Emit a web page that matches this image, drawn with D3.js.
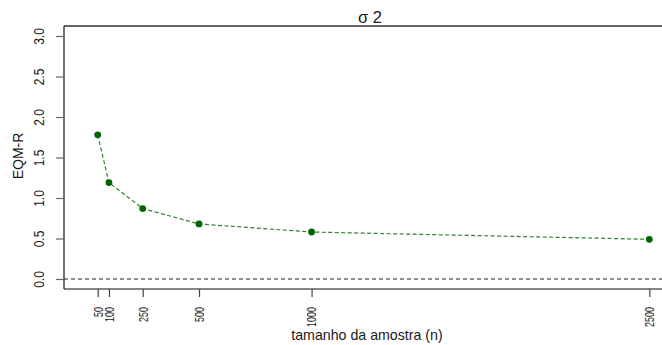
<!DOCTYPE html>
<html>
<head>
<meta charset="utf-8">
<script src="https://cdn.jsdelivr.net/npm/d3@7"></script>
<style>
  body { margin: 0; background: #fff; }
  svg { display: block; font-family: Arial, "Liberation Sans", sans-serif; }
  .lbl { fill: #1a1a1a; }
</style>
</head>
<body>
<svg id="chart"></svg>
<script>
const width = 662;
const height = 345;

const sampleSizes = [50, 100, 250, 500, 1000, 2500];
const eqmValues = [1.78, 1.19, 0.87, 0.68, 0.58, 0.49];
const yTicks = [0, 0.5, 1, 1.5, 2, 2.5, 3];

const svg = d3.select("#chart").attr("width", width).attr("height", height);

// plot box: left edge at 64, top 26, bottom 289, right runs off the page
const box = { left: 64, top: 26, bottom: 289, right: 674 };

const x = d3.scaleLinear().domain([50, 2500]).range([97.7, 649.3]);
const y = d3.scaleLinear().domain([0, 3]).range([279, 36]);

// box lines
svg.append("line")
  .attr("x1", box.left).attr("x2", box.right)
  .attr("y1", box.top).attr("y2", box.top)
  .attr("stroke", "#333").attr("stroke-width", 1.5);
svg.append("line")
  .attr("x1", box.left).attr("x2", box.right)
  .attr("y1", box.bottom).attr("y2", box.bottom)
  .attr("stroke", "#111").attr("stroke-width", 1.2);
svg.append("line")
  .attr("x1", box.left).attr("x2", box.left)
  .attr("y1", box.top).attr("y2", box.bottom)
  .attr("stroke", "#111").attr("stroke-width", 1.2);

// y axis
const yAxis = svg.append("g")
  .attr("transform", `translate(${box.left},0)`)
  .call(d3.axisLeft(y).tickValues(yTicks).tickSize(8))
  .call((g) => g.select(".domain").remove());
yAxis.selectAll(".tick line").attr("stroke", "#666").attr("stroke-width", 1.2);
yAxis.selectAll(".tick text").remove();
yAxis.selectAll(".tick")
  .append("text")
  .attr("class", "lbl")
  .attr("transform", "translate(-20.5,0) rotate(-90) scale(0.8,1)")
  .attr("text-anchor", "middle")
  .attr("font-size", 15)
  .text((d) => d3.format(".1f")(d));

// x axis
const xAxis = svg.append("g")
  .attr("transform", `translate(0,${box.bottom})`)
  .call(d3.axisBottom(x).tickValues(sampleSizes).tickSize(8))
  .call((g) => g.select(".domain").remove());
xAxis.selectAll(".tick line").attr("stroke", "#444").attr("stroke-width", 1.2);
xAxis.selectAll(".tick text").remove();
xAxis.selectAll(".tick")
  .append("text")
  .attr("class", "lbl")
  .attr("transform", "translate(0,18) rotate(-90) scale(0.72,1)")
  .attr("text-anchor", "end")
  .attr("dy", "0.35em")
  .attr("font-size", 12.5)
  .text((d) => d);

// reference line at zero
svg.append("line")
  .attr("x1", box.left).attr("x2", box.right)
  .attr("y1", y(0)).attr("y2", y(0))
  .attr("stroke", "#222").attr("stroke-width", 1)
  .attr("stroke-dasharray", "4,3");

// series
const line = d3.line()
  .x((d, i) => x(sampleSizes[i]))
  .y((d) => y(d));
svg.append("path")
  .datum(eqmValues)
  .attr("d", line)
  .attr("fill", "none")
  .attr("stroke", "#2f842f")
  .attr("stroke-width", 1.2)
  .attr("stroke-dasharray", "4,2.5");
svg.selectAll("circle.pt")
  .data(eqmValues)
  .join("circle")
  .attr("class", "pt")
  .attr("cx", (d, i) => x(sampleSizes[i]))
  .attr("cy", (d) => y(d))
  .attr("r", 3.4)
  .attr("fill", "#006400");

// titles
svg.append("text")
  .attr("class", "lbl")
  .attr("x", 370).attr("y", 23)
  .attr("text-anchor", "middle")
  .attr("font-size", 16.5)
  .text("σ 2");
svg.append("text")
  .attr("class", "lbl")
  .attr("x", 367).attr("y", 340)
  .attr("text-anchor", "middle")
  .attr("font-size", 14.2)
  .text("tamanho da amostra (n)");
svg.append("text")
  .attr("class", "lbl")
  .attr("transform", "translate(23,156) rotate(-90)")
  .attr("text-anchor", "middle")
  .attr("font-size", 14)
  .text("EQM-R");
</script>
</body>
</html>
